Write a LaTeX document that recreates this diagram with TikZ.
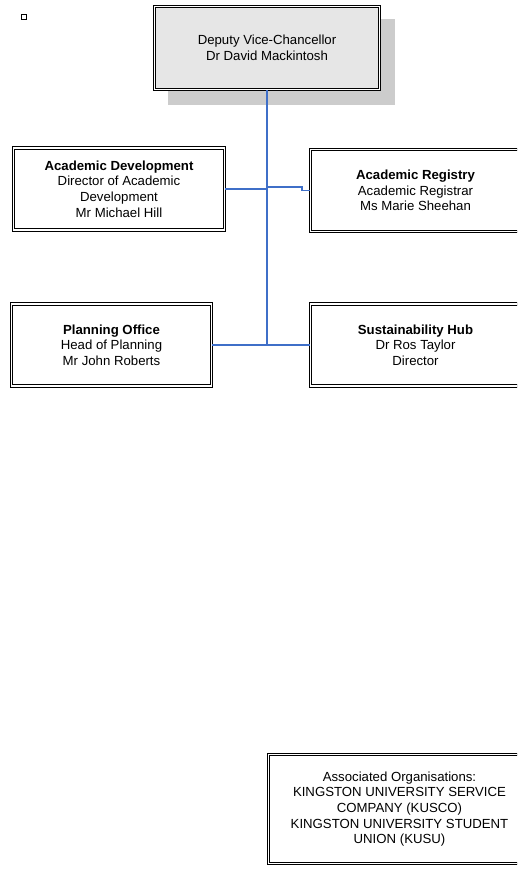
\documentclass[tikz,border=0pt]{standalone}
\usepackage{fontspec}
\setmainfont{Liberation Sans}
\usepackage{tikz}

\definecolor{linkblue}{HTML}{3F6FC8}
\definecolor{headgrey}{HTML}{E6E6E6}
\definecolor{shadowgrey}{HTML}{CCCCCC}

\begin{document}
\begin{tikzpicture}[x=1pt, y=-1pt,
		unit/.style={draw, double=white, double distance=1.1pt, line width=1pt, align=center, inner sep=0pt, font=\fontsize{13.2}{15.6}\selectfont},
		link/.style={draw=linkblue, line width=1.2pt}]
		\useasboundingbox (0,0) rectangle (517,870);
		\clip (0,0) rectangle (517,870);

		\draw[line width=1pt] (21,14) rectangle (26,19);

		\fill[shadowgrey] (168,19) rectangle (395,105);
		\draw (267,48) node[unit, fill=headgrey, minimum width=225pt, minimum height=83pt] (dvc) {Deputy Vice-Chancellor\\Dr David Mackintosh};

		\draw (119,189) node[unit, minimum width=211pt, minimum height=82pt] (acdev) {\textbf{Academic Development}\\Director of Academic\\Development\\Mr Michael Hill};
		\draw (415.5,190.5) node[unit, minimum width=210pt, minimum height=82pt] (acreg) {\textbf{Academic Registry}\\Academic Registrar\\Ms Marie Sheehan};

		\draw (111.5,345) node[unit, minimum width=200pt, minimum height=82pt] (plan) {\textbf{Planning Office}\\Head of Planning\\Mr John Roberts};
		\draw (415.5,345) node[unit, minimum width=210pt, minimum height=82pt] (sust) {\textbf{Sustainability Hub}\\Dr Ros Taylor\\Director};

		\draw (399.5,809) node[unit, minimum width=262pt, minimum height=109pt] (assoc) {Associated Organisations:\\KINGSTON UNIVERSITY SERVICE\\COMPANY (KUSCO)\\KINGSTON UNIVERSITY STUDENT\\UNION (KUSU)};

		\coordinate (jog) at (302,187);

		\draw [link] (dvc.south) -- (dvc.south |- plan.east);
		\draw [link] (plan.east) -- (sust.west);
		\draw [link] (acdev.east) -- (acdev.east -| dvc.south);
		\draw [link] (dvc.south |- jog) -- (jog) |- (acreg.west);
	\end{tikzpicture}
\end{document}
